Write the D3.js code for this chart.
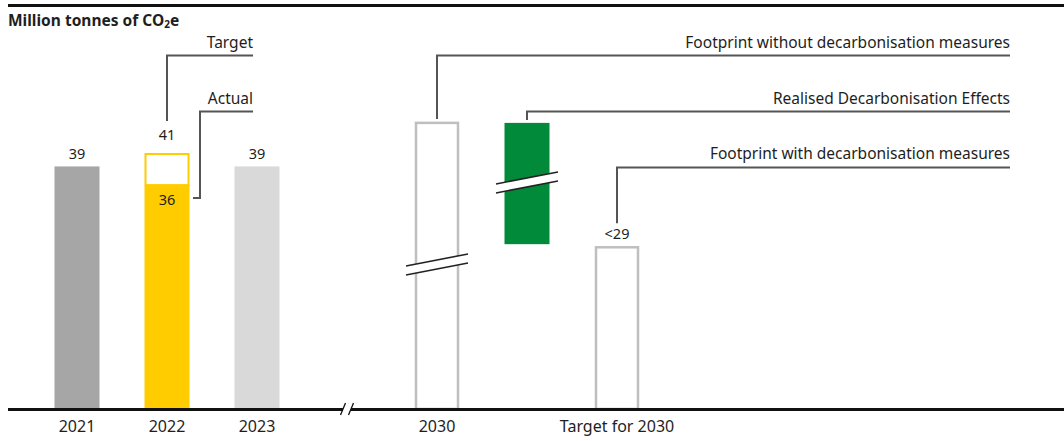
<!DOCTYPE html>
<html>
<head>
<meta charset="utf-8">
<script src="https://cdn.jsdelivr.net/npm/d3@7"></script>
<style>
  body { margin: 0; background: #fff; }
  svg text { font-family: "Noto Sans", "Open Sans", sans-serif; fill: #1e1e1e; }
</style>
</head>
<body>
<svg></svg>
<script>
// categories on the x axis ("gap" is the axis break slot)
const slots = ["2021", "2022", "2023", "gap", "2030", "effects", "target"];
const axisLabels = {"2021": "2021", "2022": "2022", "2023": "2023", "2030": "2030", "target": "Target for 2030"};

// historic emissions, million tonnes CO2e
const histYears = ["2021", "2022", "2023"];
const histValues = [39, 36, 39];
const histColors = ["#a6a6a6", "#ffcc00", "#d9d9d9"];
const target2022 = 41;

// 2030 (schematic, axis broken)
const footprint2030 = 46;          // footprint without measures (broken bar)
const effects2030 = [26.5, 46];    // realised decarbonisation effects
const target2030 = 26;             // drawn height of target bar
const target2030Label = "<29";

const width = 1064;
const height = 441;
const baseY = 409;

let svg = d3.select("svg").attr("width", width).attr("height", height);

let x = d3.scaleBand().domain(slots).range([32, 662]).paddingInner(0.5).paddingOuter(0.25);
let y = d3.scaleLinear().domain([0, 60]).range([baseY, baseY - 60 * 6.22]);
const bw = x.bandwidth();
const cx = k => x(k) + bw / 2;

// top rule and title
svg.append("line").attr("x1", 8).attr("x2", width).attr("y1", 5.5).attr("y2", 5.5)
    .attr("stroke", "#111").attr("stroke-width", 3);
svg.append("text").attr("x", 8).attr("y", 26).attr("font-size", 15.5).attr("font-weight", "bold")
    .html('Million tonnes of CO<tspan font-size="10" dy="2">2</tspan><tspan dy="-2">e</tspan>');

// historic bars
svg.selectAll(".hist").data(histYears).enter().append("rect").attr("class", "hist")
    .attr("x", d => x(d))
    .attr("y", (d, i) => y(histValues[i]))
    .attr("width", bw)
    .attr("height", (d, i) => baseY - y(histValues[i]))
    .attr("fill", (d, i) => histColors[i]);

// 2022 target outline
svg.append("rect")
    .attr("x", x("2022") + 1).attr("y", y(target2022))
    .attr("width", bw - 2).attr("height", y(histValues[1]) - y(target2022))
    .attr("fill", "none").attr("stroke", "#ffcc00").attr("stroke-width", 2);

// value labels
svg.selectAll(".histLabel").data(histYears).enter().append("text")
    .attr("x", d => cx(d))
    .attr("y", (d, i) => d === "2022" ? y(histValues[i]) + 20 : y(histValues[i]) - 7)
    .attr("text-anchor", "middle").attr("font-size", 14.5)
    .text((d, i) => histValues[i]);
svg.append("text").attr("x", cx("2022")).attr("y", y(target2022) - 14)
    .attr("text-anchor", "middle").attr("font-size", 14.5).text(target2022);

// 2030 footprint without measures
svg.append("rect")
    .attr("x", x("2030") + 1.5).attr("y", y(footprint2030))
    .attr("width", bw - 3).attr("height", baseY - y(footprint2030))
    .attr("fill", "#fff").attr("stroke", "#bfbfbf").attr("stroke-width", 2.5);

// realised effects
svg.append("rect")
    .attr("x", x("effects")).attr("y", y(effects2030[1]))
    .attr("width", bw).attr("height", y(effects2030[0]) - y(effects2030[1]))
    .attr("fill", "#008a3a");

// target 2030
svg.append("rect")
    .attr("x", x("target") + 1.5).attr("y", y(target2030))
    .attr("width", bw - 3).attr("height", baseY - y(target2030))
    .attr("fill", "#fff").attr("stroke", "#bfbfbf").attr("stroke-width", 2.5);
svg.append("text").attr("x", cx("target")).attr("y", y(target2030) - 8)
    .attr("text-anchor", "middle").attr("font-size", 14.5).text(target2030Label);

// slanted break marks
function breakMark(xc, yc, half, rise) {
    const g = svg.append("g");
    g.append("polygon")
        .attr("points", [[xc - half, yc + rise / 2], [xc + half, yc - rise / 2],
                         [xc + half, yc - rise / 2 + 9], [xc - half, yc + rise / 2 + 9]].join(" "))
        .attr("fill", "#fff");
    [0, 9].forEach(o => g.append("line")
        .attr("x1", xc - half).attr("y1", yc + rise / 2 + o)
        .attr("x2", xc + half).attr("y2", yc - rise / 2 + o)
        .attr("stroke", "#222").attr("stroke-width", 1.6));
}
breakMark(cx("2030"), 260, 31, 12);
breakMark(cx("effects"), 178, 31, 12);

// baseline with axis break
svg.append("line").attr("x1", 8).attr("x2", width).attr("y1", baseY + 0.5).attr("y2", baseY + 0.5)
    .attr("stroke", "#111").attr("stroke-width", 3);
svg.append("rect").attr("x", cx("gap") - 4).attr("y", baseY - 3).attr("width", 8).attr("height", 7).attr("fill", "#fff");
[-4, 4].forEach(o => svg.append("line")
    .attr("x1", cx("gap") + o - 2.5).attr("y1", baseY + 6)
    .attr("x2", cx("gap") + o + 2.5).attr("y2", baseY - 6)
    .attr("stroke", "#111").attr("stroke-width", 1.3));

// x labels
svg.selectAll(".xl").data(Object.keys(axisLabels)).enter().append("text")
    .attr("x", d => cx(d)).attr("y", 432)
    .attr("text-anchor", "middle").attr("font-size", 16)
    .text(d => axisLabels[d]);

// callouts
const callouts = [
    {text: "Target", textY: 47.5, lineY: 55.5, x0: cx("2022"), y1: y(target2022) - 33, x1: 253},
    {text: "Actual", textY: 103.5, lineY: 111.5, x0: 200, y1: 198, x1: 253, hook: 193},
    {text: "Footprint without decarbonisation measures", textY: 47.5, lineY: 55.5, x0: cx("2030"), y1: y(footprint2030) - 4, x1: 1010},
    {text: "Realised Decarbonisation Effects", textY: 103.5, lineY: 111.5, x0: cx("effects"), y1: y(effects2030[1]) - 3, x1: 1010},
    {text: "Footprint with decarbonisation measures", textY: 159, lineY: 167.5, x0: cx("target"), y1: y(target2030) - 24, x1: 1010}
];
callouts.forEach(c => {
    let pts = [[c.x1, c.lineY], [c.x0, c.lineY], [c.x0, c.y1]];
    if (c.hook) pts.push([c.hook, c.y1]);
    svg.append("path").attr("d", d3.line()(pts))
        .attr("fill", "none").attr("stroke", "#555").attr("stroke-width", 2);
    svg.append("text").attr("x", c.x1).attr("y", c.textY)
        .attr("text-anchor", "end").attr("font-size", 15.5).text(c.text);
});
</script>
</body>
</html>
